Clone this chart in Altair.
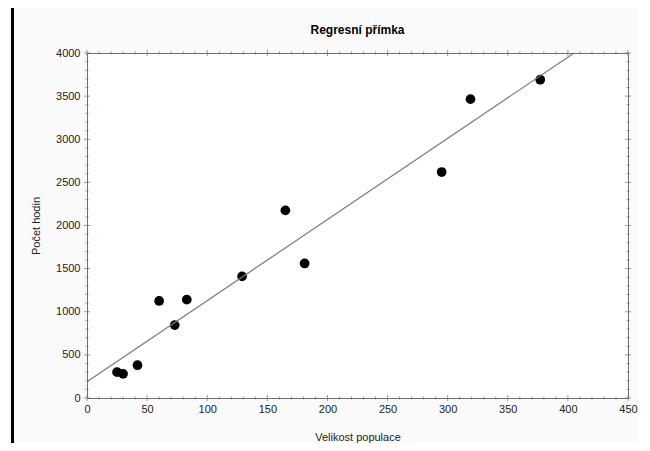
import altair as alt
import pandas as pd

# Data
populace = [25, 30, 42, 60, 73, 83, 129, 165, 181, 295, 319, 377]
hodiny = [300, 280, 380, 1125, 845, 1140, 1410, 2175, 1560, 2620, 3465, 3690]

x_major = [0, 50, 100, 150, 200, 250, 300, 350, 400, 450]
x_minor = [v for v in range(0, 451, 10) if v % 50 != 0]
y_major = [0, 500, 1000, 1500, 2000, 2500, 3000, 3500, 4000]
y_minor = [v for v in range(0, 4001, 100) if v % 500 != 0]

FONT = "Liberation Sans"
GRAY = "#6e6e6e"

df = pd.DataFrame({"x": populace, "y": hodiny})

xscale = alt.Scale(domain=[0, 450], nice=False, zero=False)
yscale = alt.Scale(domain=[0, 4000], nice=False, zero=False)

points = alt.Chart(df).mark_circle(size=95, color="black", opacity=1).encode(
    x=alt.X("x:Q", scale=xscale, title="Velikost populace",
            axis=alt.Axis(values=x_major, ticks=False, domain=False, grid=False,
                          labelFlush=False, labelPadding=5, titlePadding=17,
                          format="d")),
    y=alt.Y("y:Q", scale=yscale, title="Počet hodin",
            axis=alt.Axis(values=y_major, ticks=False, domain=False, grid=False,
                          labelPadding=7, titlePadding=14, format="d")),
)

line = alt.Chart(df).mark_line(color="#7a7a7a", strokeWidth=1.2, clip=True).transform_regression(
    "x", "y", extent=[0, 450]
).encode(
    x=alt.X("x:Q", scale=xscale),
    y=alt.Y("y:Q", scale=yscale),
)


def xticks(vals, ypos, size):
    d = pd.DataFrame({"x": vals, "y": [ypos] * len(vals)})
    return alt.Chart(d).mark_tick(orient="vertical", size=size, thickness=1, color=GRAY, clip=False).encode(
        x=alt.X("x:Q", scale=xscale),
        y=alt.Y("y:Q", scale=yscale),
    )


def yticks(vals, xpos, size):
    d = pd.DataFrame({"y": vals, "x": [xpos] * len(vals)})
    return alt.Chart(d).mark_tick(orient="horizontal", size=size, thickness=1, color=GRAY, clip=False).encode(
        x=alt.X("x:Q", scale=xscale),
        y=alt.Y("y:Q", scale=yscale),
    )


ticks = [
    xticks(x_major, 0, 6), xticks(x_minor, 0, 3),
    xticks(x_major, 4000, 6), xticks(x_minor, 4000, 3),
    yticks(y_major, 0, 6), yticks(y_minor, 0, 3),
    yticks(y_major, 450, 6), yticks(y_minor, 450, 3),
]

border = alt.Chart(df).mark_rule(color="black", strokeWidth=3, clip=False).encode(
    x=alt.value(-74.5), y=alt.value(-45), y2=alt.value(390)
)

chart = alt.layer(points, line, *ticks, border).properties(
    width=541,
    height=345,
    title=alt.TitleParams("Regresní přímka", fontSize=12, fontWeight="bold",
                          font=FONT, color="black", offset=0, dy=30,
                          anchor="middle", frame="group"),
    autosize=alt.AutoSizeParams(type="none"),
    padding={"left": 79, "top": 45, "right": 10, "bottom": 45},
    background="#fafafa",
).configure_view(
    fill="white", stroke=GRAY, strokeWidth=1
).configure_axis(
    labelFont=FONT, titleFont=FONT, labelFontSize=11, titleFontSize=11,
    labelColor="#222222", titleColor="#222222", titleFontWeight="normal",
)

chart.save("out.html", embed_options={"renderer": "svg", "actions": False})
